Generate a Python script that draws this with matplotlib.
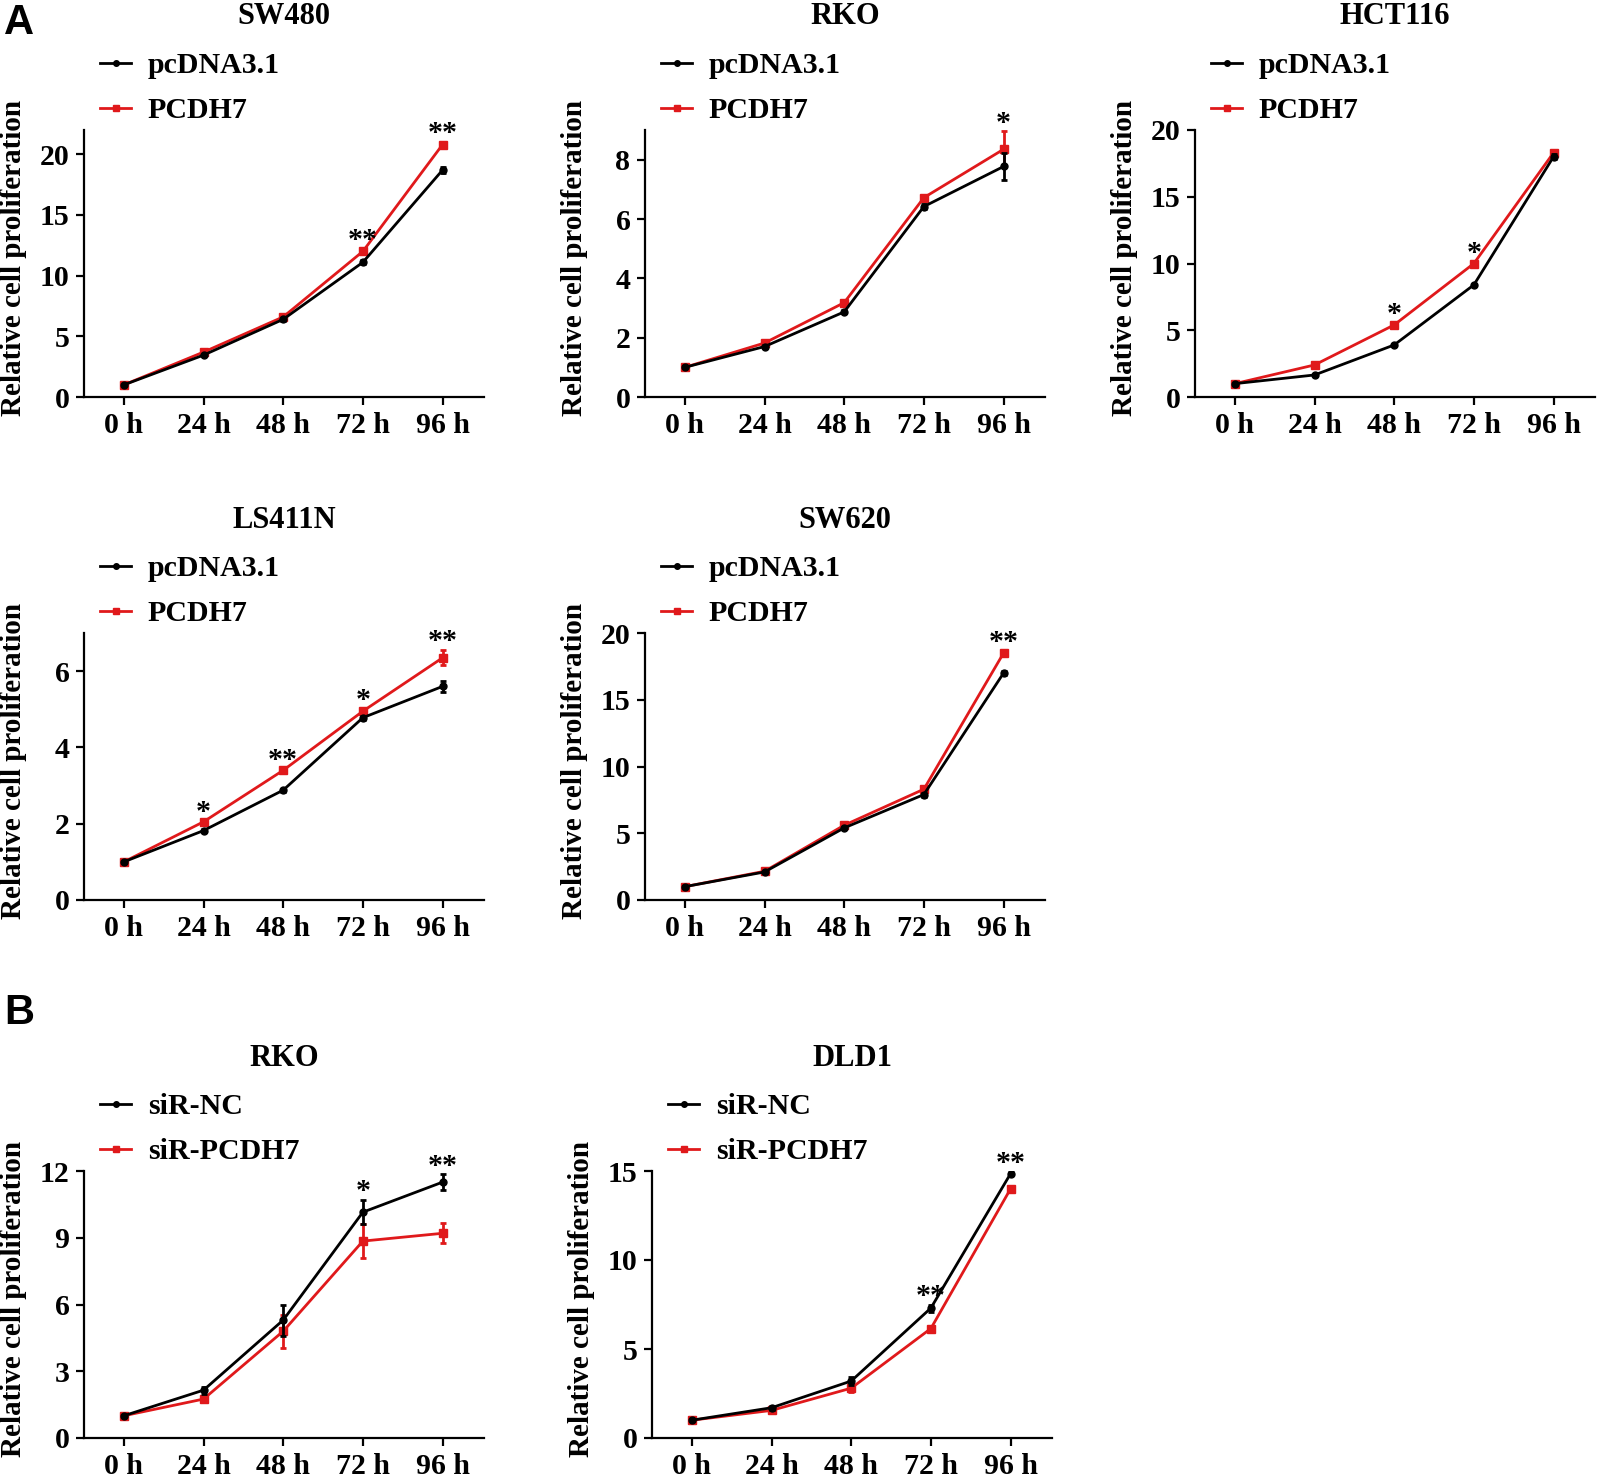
import matplotlib
matplotlib.use("Agg")
import matplotlib.pyplot as plt
from matplotlib.lines import Line2D
import numpy as np

# ---------------- data ----------------
time_labels = ["0 h", "24 h", "48 h", "72 h", "96 h"]

titles = ["SW480", "RKO", "HCT116", "LS411N", "SW620", "RKO", "DLD1"]
ctrl_names = ["pcDNA3.1"] * 5 + ["siR-NC"] * 2
treat_names = ["PCDH7"] * 5 + ["siR-PCDH7"] * 2

sw480_ctrl = [1.0, 3.45, 6.4, 11.1, 18.7]
sw480_ctrl_err = [0.05, 0.1, 0.1, 0.15, 0.25]
sw480_treat = [1.0, 3.7, 6.6, 12.0, 20.8]
sw480_treat_err = [0.05, 0.1, 0.1, 0.2, 0.2]

rko_ctrl = [1.0, 1.7, 2.87, 6.42, 7.77]
rko_ctrl_err = [0.02, 0.05, 0.05, 0.08, 0.45]
rko_treat = [1.0, 1.82, 3.18, 6.72, 8.35]
rko_treat_err = [0.02, 0.05, 0.1, 0.1, 0.6]

hct_ctrl = [1.0, 1.65, 3.9, 8.4, 18.0]
hct_ctrl_err = [0.05, 0.05, 0.1, 0.1, 0.2]
hct_treat = [1.0, 2.4, 5.4, 10.0, 18.3]
hct_treat_err = [0.05, 0.1, 0.15, 0.15, 0.15]

ls_ctrl = [1.0, 1.82, 2.88, 4.78, 5.6]
ls_ctrl_err = [0.02, 0.03, 0.04, 0.05, 0.15]
ls_treat = [1.0, 2.05, 3.4, 4.95, 6.35]
ls_treat_err = [0.02, 0.03, 0.05, 0.06, 0.2]

sw620_ctrl = [1.0, 2.1, 5.4, 7.9, 17.0]
sw620_ctrl_err = [0.05, 0.1, 0.1, 0.15, 0.15]
sw620_treat = [1.0, 2.15, 5.6, 8.3, 18.5]
sw620_treat_err = [0.05, 0.1, 0.1, 0.15, 0.15]

rkoB_ctrl = [1.0, 2.15, 5.3, 10.15, 11.5]
rkoB_ctrl_err = [0.05, 0.15, 0.7, 0.55, 0.35]
rkoB_treat = [1.0, 1.75, 4.8, 8.85, 9.2]
rkoB_treat_err = [0.05, 0.1, 0.75, 0.75, 0.45]

dld_ctrl = [1.0, 1.7, 3.2, 7.3, 14.85]
dld_ctrl_err = [0.05, 0.1, 0.2, 0.2, 0.1]
dld_treat = [1.0, 1.55, 2.8, 6.15, 14.0]
dld_treat_err = [0.05, 0.1, 0.2, 0.15, 0.1]

ctrl_vals = [sw480_ctrl, rko_ctrl, hct_ctrl, ls_ctrl, sw620_ctrl, rkoB_ctrl, dld_ctrl]
ctrl_errs = [sw480_ctrl_err, rko_ctrl_err, hct_ctrl_err, ls_ctrl_err, sw620_ctrl_err, rkoB_ctrl_err, dld_ctrl_err]
treat_vals = [sw480_treat, rko_treat, hct_treat, ls_treat, sw620_treat, rkoB_treat, dld_treat]
treat_errs = [sw480_treat_err, rko_treat_err, hct_treat_err, ls_treat_err, sw620_treat_err, rkoB_treat_err, dld_treat_err]

y_tops = [22, 9, 20, 7, 20, 12, 15]
y_ticks = [[0, 5, 10, 15, 20], [0, 2, 4, 6, 8], [0, 5, 10, 15, 20],
           [0, 2, 4, 6], [0, 5, 10, 15, 20], [0, 3, 6, 9, 12], [0, 5, 10, 15]]

# significance marks: (time index, label)
sig_marks = [
    [(3, "**"), (4, "**")],
    [(4, "*")],
    [(2, "*"), (3, "*")],
    [(1, "*"), (2, "**"), (3, "*"), (4, "**")],
    [(4, "**")],
    [(3, "*"), (4, "**")],
    [(3, "**"), (4, "**")],
]

# ---------------- layout ----------------
W, H = 1600, 1478
fig = plt.figure(figsize=(W / 100, H / 100), dpi=100)
plt.rcParams['font.family'] = ['Liberation Serif', 'DejaVu Serif']
plt.rcParams['font.weight'] = 'bold'

pos_px = [(84, 130), (645, 130), (1195, 130),
          (84, 633), (645, 633),
          (84, 1171), (652, 1171)]
ax_w, ax_h = 400, 267

RED = '#E0191B'
FS = 21.5

x = np.arange(len(time_labels))

for i in range(7):
    lpx, tpx = pos_px[i]
    ax = fig.add_axes([lpx / W, 1 - (tpx + ax_h) / H, ax_w / W, ax_h / H])
    ax.errorbar(x, ctrl_vals[i], yerr=ctrl_errs[i], color='black', lw=2.0,
                marker='o', ms=5, capsize=2.5, elinewidth=2.0, capthick=2.0,
                zorder=3)
    ax.errorbar(x, treat_vals[i], yerr=treat_errs[i], color=RED, lw=2.0,
                marker='s', ms=5.5, capsize=2.5, elinewidth=2.0, capthick=2.0,
                zorder=2)
    ax.set_xlim(-0.5, 4.52)
    ax.set_ylim(0, y_tops[i])
    ax.set_yticks(y_ticks[i])
    ax.set_xticks(x)
    ax.set_xticklabels(time_labels)
    for s in ['top', 'right']:
        ax.spines[s].set_visible(False)
    for s in ['left', 'bottom']:
        ax.spines[s].set_linewidth(1.6)
    ax.tick_params(axis='both', direction='out', length=5.5, width=1.6,
                   labelsize=FS, pad=5)
    for lab in ax.get_xticklabels() + ax.get_yticklabels():
        lab.set_fontweight('bold')
    ax.set_ylabel("Relative cell proliferation", fontsize=21, fontweight='bold')
    ax.yaxis.set_label_coords(-57 / ax_w, 0.52)
    ax.text(0.5, 1 + 113 / ax_h, titles[i], transform=ax.transAxes,
            ha='center', va='center', fontsize=22, fontweight='bold')
    handles = [Line2D([], [], color='black', lw=2.0, marker='o', ms=4),
               Line2D([], [], color=RED, lw=2.0, marker='s', ms=4.5)]
    ax.legend(handles, [ctrl_names[i], treat_names[i]],
              loc='lower left', bbox_to_anchor=(16 / ax_w, 1 + 6 / ax_h),
              frameon=False, handlelength=1.05,
              handletextpad=0.55, labelspacing=0.6, borderpad=0,
              borderaxespad=0, prop={'weight': 'bold', 'size': FS})
    for idx, txt in sig_marks[i]:
        top = max(ctrl_vals[i][idx] + ctrl_errs[i][idx],
                  treat_vals[i][idx] + treat_errs[i][idx])
        ax.annotate(txt, xy=(x[idx], top), xytext=(0, 6),
                    textcoords='offset points', ha='center', va='center',
                    fontsize=FS, fontweight='bold', annotation_clip=False)

fig.text(4 / W, 1 - 3 / H, "A", ha='left', va='top', fontsize=30,
         fontweight='bold', family=['Liberation Sans', 'DejaVu Sans'])
fig.text(4 / W, 1 - 993 / H, "B", ha='left', va='top', fontsize=30,
         fontweight='bold', family=['Liberation Sans', 'DejaVu Sans'])

fig.savefig("out.png", dpi=100)
